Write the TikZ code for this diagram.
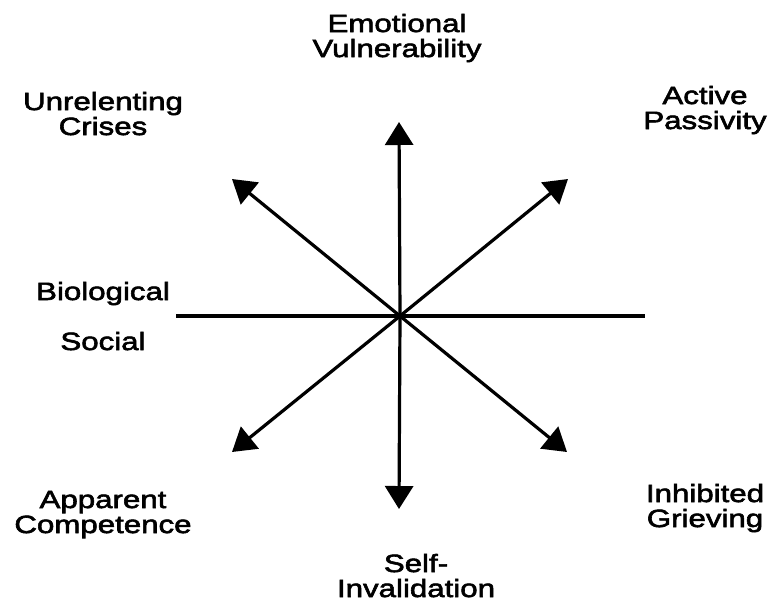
\documentclass[tikz,border=0pt]{standalone}
\usepackage{fontspec}
\setmainfont{Liberation Sans}[FakeStretch=1.25,FakeBold=2.4]
\usepackage{tikz}
\usetikzlibrary{arrows.meta}

\tikzset{
	lbl/.style={align=center, inner sep=0pt, anchor=base, font=\fontsize{12.5}{12.5}\selectfont},
	spoke/.style={line width=1.6pt, -{Triangle[length=11.5pt,width=14pt]}}
}

\begin{document}
\begin{tikzpicture}[x=0.5pt, y=-0.5pt]
			%%%%% START %%%%%
			\useasboundingbox (0, 0) rectangle (769, 601);
			
			\coordinate (mid) at (400, 316);
			\coordinate (up) at (399, 122);
			\coordinate (down) at (399, 509);
			\coordinate (ul) at (232, 179);
			\coordinate (ur) at (568, 179);
			\coordinate (dl) at (232, 452);
			\coordinate (dr) at (567, 452);
			\coordinate (hl) at (176, 316);
			\coordinate (hr) at (645, 316);
			
			\draw[line width=1.6pt] (hl) -- (hr);
			
			\draw[spoke] (mid) -- (up);
			\draw[spoke] (mid) -- (down);
			\draw[spoke] (mid) -- (ul);
			\draw[spoke] (mid) -- (ur);
			\draw[spoke] (mid) -- (dl);
			\draw[spoke] (mid) -- (dr);
			
			% base sits on the last line
			\node[lbl] (emo) at (397, 57) {Emotional\\Vulnerability};
			\node[lbl] (crises) at (103, 135) {Unrelenting\\Crises};
			\node[lbl] (passive) at (705, 129) {Active\\Passivity};
			\node[lbl] (bio) at (103, 300) {Biological};
			\node[lbl] (soc) at (103, 350) {Social};
			\node[lbl] (compet) at (103, 533) {Apparent\\Competence};
			\node[lbl] (grief) at (705, 527) {Inhibited\\Grieving};
			\node[lbl] (selfinv) at (416, 597) {Self-\\Invalidation};
			%%%%% END %%%%%
		\end{tikzpicture}
\end{document}
